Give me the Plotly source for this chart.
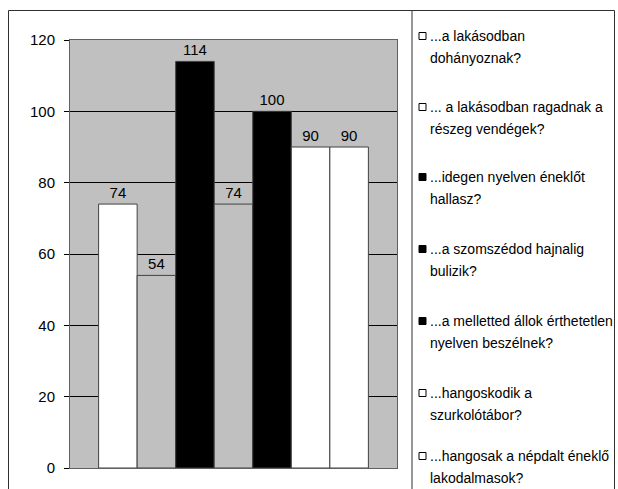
import plotly.graph_objects as go

# ---- data ----
categories = [""]
series_names = [
    "...a lakásodban\ndohányoznak?",
    "... a lakásodban ragadnak a\nrészeg vendégek?",
    "...idegen nyelven éneklőt\nhallasz?",
    "...a szomszédod hajnalig\nbulizik?",
    "...a melletted állok érthetetlen\nnyelven beszélnek?",
    "...hangoskodik a\nszurkolótábor?",
    "...hangosak a népdalt éneklő\nlakodalmasok?",
]
values = [74, 54, 114, 74, 100, 90, 90]
y_ticks = [0, 20, 40, 60, 80, 100, 120]

# ---- styles ----
bar_colors = ["#ffffff", "#c0c0c0", "#000000", "#c0c0c0", "#000000", "#ffffff", "#ffffff"]
legend_fills = ["#ffffff", "#ffffff", "#000000", "#000000", "#000000", "#ffffff", "#ffffff"]
FONT = "Liberation Sans, Arial, sans-serif"

W, H = 618, 489
L, T = 70, 40
R = W - 397
B = H - 468
pw, ph = W - L - R, H - T - B


def px(x):  # page pixel -> paper
    return (x - L) / pw


def py(y):
    return (H - B - y) / ph


fig = go.Figure()
for name, v, c in zip(series_names, values, bar_colors):
    fig.add_trace(go.Bar(
        x=categories, y=[v], name=name.replace("\n", " "),
        marker=dict(color=c, line=dict(color="#404040", width=1)),
        text=[v], textposition="outside", cliponaxis=False,
        textfont=dict(family=FONT, size=15, color="black"),
        showlegend=False,
    ))

shapes = [
    dict(type="rect", xref="paper", yref="paper", x0=px(8.5), x1=px(614.5), y0=py(520), y1=py(10.5),
         line=dict(color="#303030", width=1), fillcolor="rgba(0,0,0,0)", layer="above"),
    dict(type="line", xref="paper", yref="paper", x0=px(412), x1=px(412), y0=py(520), y1=py(10.5),
         line=dict(color="#303030", width=1), layer="above"),
]
annotations = []
first_line_y = [36, 107, 177, 249, 321, 393, 456]
line_gap = 22
for name, fill, y0 in zip(series_names, legend_fills, first_line_y):
    shapes.append(dict(type="rect", xref="paper", yref="paper",
                       x0=px(419), x1=px(426), y0=py(y0 + 3.5), y1=py(y0 - 3.5),
                       line=dict(color="black", width=1), fillcolor=fill))
    for k, line in enumerate(name.split("\n")):
        annotations.append(dict(xref="paper", yref="paper", x=px(428), y=py(y0 + k * line_gap),
                                xanchor="left", yanchor="middle", showarrow=False, text=line,
                                font=dict(family=FONT, size=14, color="black")))

fig.update_layout(
    width=W, height=H,
    margin=dict(l=L, r=R, t=T, b=B, pad=0),
    paper_bgcolor="white", plot_bgcolor="#c0c0c0",
    barmode="group", bargap=0.175, bargroupgap=0,
    showlegend=False,
    font=dict(family=FONT, size=15, color="black"),
    xaxis=dict(showticklabels=False, ticks="", showgrid=False, zeroline=False,
               showline=True, linecolor="#606060", linewidth=1, mirror=True),
    yaxis=dict(range=[0, 120], tickvals=y_ticks, ticks="outside", ticklen=5,
               tickcolor="black", showgrid=True, gridcolor="black", gridwidth=1,
               zeroline=False, showline=True, linecolor="#606060", linewidth=1, mirror=True,
               ticklabelstandoff=6, tickfont=dict(family=FONT, size=15, color="black")),
    shapes=shapes, annotations=annotations,
)

fig.write_html(
    "out.html",
    config={"displayModeBar": False},
    post_script="document.body.style.margin='0';document.body.style.overflow='hidden';",
)
